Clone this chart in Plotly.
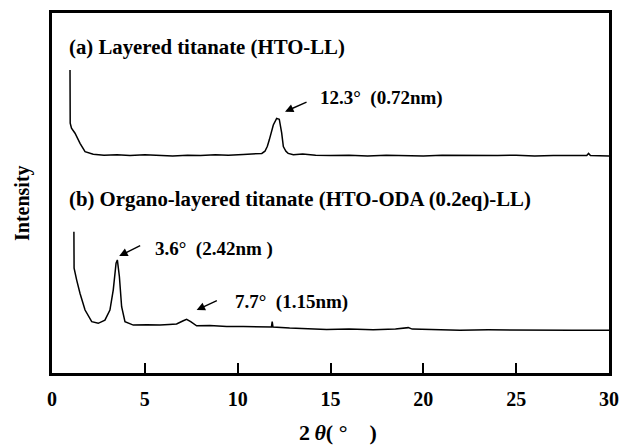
import plotly.graph_objects as go

# (a) Layered titanate (HTO-LL)
theta_a = [0.97, 0.98, 1.05, 1.24, 1.51, 1.78, 2.22, 2.8, 3.5, 4.2, 5.0, 5.8, 6.5, 7.3, 8.0,
           8.8, 9.5, 10.3, 11.0, 11.3, 11.47, 11.6, 11.70, 11.8, 11.92, 12.10, 12.24, 12.37,
           12.46, 12.6, 12.72, 13.0, 13.5, 14.2, 15.0, 16.0, 17.0, 18.0, 19.0, 20.0, 21.0,
           22.0, 23.0, 24.0, 25.0, 26.0, 27.0, 28.0, 28.8, 28.9, 29.0, 30.0]
intensity_a = [84.2, 69.4, 68.0, 66.6, 63.8, 61.5, 60.75, 60.5, 60.6, 60.4, 60.6, 60.5, 60.3,
               60.5, 60.4, 60.6, 60.5, 60.7, 60.8, 61.0, 61.6, 63.0, 64.7, 66.8, 68.9, 70.75,
               70.5, 66.7, 62.9, 61.6, 61.0, 60.6, 60.8, 60.5, 60.4, 60.5, 60.3, 60.5, 60.4,
               60.3, 60.5, 60.4, 60.3, 60.4, 60.5, 60.3, 60.4, 60.3, 60.4, 61.0, 60.4, 60.3]

# (b) Organo-layered titanate (HTO-ODA (0.2eq)-LL)
theta_b = [1.18, 1.19, 1.33, 1.51, 1.78, 2.14, 2.49, 2.85, 3.12, 3.30, 3.45, 3.52, 3.63, 3.75,
           3.93, 4.38, 5.1, 5.82, 6.3, 6.71, 7.07, 7.25, 7.47, 7.79, 8.5, 9.41, 10.3, 11.2,
           11.82, 11.86, 11.90, 12.8, 13.8, 14.79, 16.0, 17.3, 18.5, 19.19, 19.4, 20.5, 21.97,
           23.5, 25.0, 26.5, 28.0, 30.0]
intensity_b = [39.25, 29.1, 25.8, 22.1, 17.5, 14.25, 13.8, 14.7, 17.5, 23.1, 30.5, 31.4, 26.75,
               18.4, 14.25, 13.3, 13.4, 13.3, 13.5, 13.6, 14.5, 14.9, 14.25, 13.1, 13.2, 12.9,
               12.9, 12.8, 12.8, 14.25, 12.8, 12.5, 12.4, 12.1, 12.2, 12.0, 12.2, 12.6, 12.2,
               12.0, 11.9, 12.0, 11.9, 12.0, 11.9, 11.9]

x_ticks = [0, 5, 10, 15, 20, 25, 30]
x_tick_labels = ["0", "5", "10", "15", "20", "25", "30"]

label_a = "(a) Layered titanate (HTO-LL)"
label_b = "(b) Organo-layered titanate (HTO-ODA (0.2eq)-LL)"
peak_texts = ["12.3°\u00a0\u00a0(0.72nm)", "3.6°\u00a0\u00a0(2.42nm )", "7.7°\u00a0\u00a0(1.15nm)"]
peak_heads = [(12.55, 72.6), (3.62, 32.5), (7.79, 17.5)]
peak_tails = [(13.79, 75.4), (4.83, 35.6), (8.96, 20.3)]
peak_text_pos = [(14.32, 76.4), (5.44, 34.5), (9.76, 19.8)]

FONT = "Liberation Serif, Times New Roman, serif"

fig = go.Figure()
fig.add_trace(go.Scatter(x=theta_a, y=intensity_a, mode="lines",
                         line=dict(color="black", width=1.5), showlegend=False))
fig.add_trace(go.Scatter(x=theta_b, y=intensity_b, mode="lines",
                         line=dict(color="black", width=1.5), showlegend=False))

annotations = []
annotations.append(dict(x=0.79, y=90.6, xref="x", yref="y", text=label_a, showarrow=False,
                        xanchor="left", yanchor="middle",
                        font=dict(family=FONT, size=20.8, color="black", weight="bold")))
annotations.append(dict(x=0.81, y=48.3, xref="x", yref="y", text=label_b, showarrow=False,
                        xanchor="left", yanchor="middle",
                        font=dict(family=FONT, size=20.8, color="black", weight="bold")))
for (hx, hy), (tx, ty), (px, py), txt in zip(peak_heads, peak_tails, peak_text_pos, peak_texts):
    annotations.append(dict(x=hx, y=hy, ax=tx, ay=ty, xref="x", yref="y", axref="x", ayref="y",
                            text="", showarrow=True, arrowhead=2, arrowsize=1.2,
                            arrowwidth=1.4, arrowcolor="black"))
    annotations.append(dict(x=px, y=py, xref="x", yref="y", text=txt, showarrow=False,
                            xanchor="left", yanchor="middle",
                            font=dict(family=FONT, size=19, color="black", weight="bold")))
annotations.append(dict(x=-0.054, y=0.472, xref="paper", yref="paper", text="Intensity",
                        showarrow=False, textangle=-90, xanchor="center", yanchor="middle",
                        font=dict(family=FONT, size=20, color="black", weight="bold")))
annotations.append(dict(x=0.513, y=-0.165, xref="paper", yref="paper",
                        text="2\u2009<i>θ</i>(\u00a0°\u00a0\u00a0\u00a0\u00a0)", showarrow=False,
                        xanchor="center", yanchor="middle",
                        font=dict(family=FONT, size=22, color="black", weight="bold")))

fig.update_layout(
    width=620, height=448,
    margin=dict(l=52, r=11, t=13, b=75, autoexpand=False),
    paper_bgcolor="white", plot_bgcolor="white",
    annotations=annotations,
    xaxis=dict(range=[0, 30], tickvals=x_ticks, ticktext=x_tick_labels,
               ticks="inside", ticklen=10, tickwidth=2, tickcolor="black",
               showline=True, mirror=True, linewidth=2.5, linecolor="black",
               showgrid=False, zeroline=False, automargin=False, ticklabelstandoff=6,
               tickfont=dict(family=FONT, size=20, color="black", weight="bold")),
    yaxis=dict(range=[0, 100], showticklabels=False, ticks="",
               showline=True, mirror=True, linewidth=2.5, linecolor="black",
               showgrid=False, zeroline=False, automargin=False),
)

fig.write_html("out.html")
